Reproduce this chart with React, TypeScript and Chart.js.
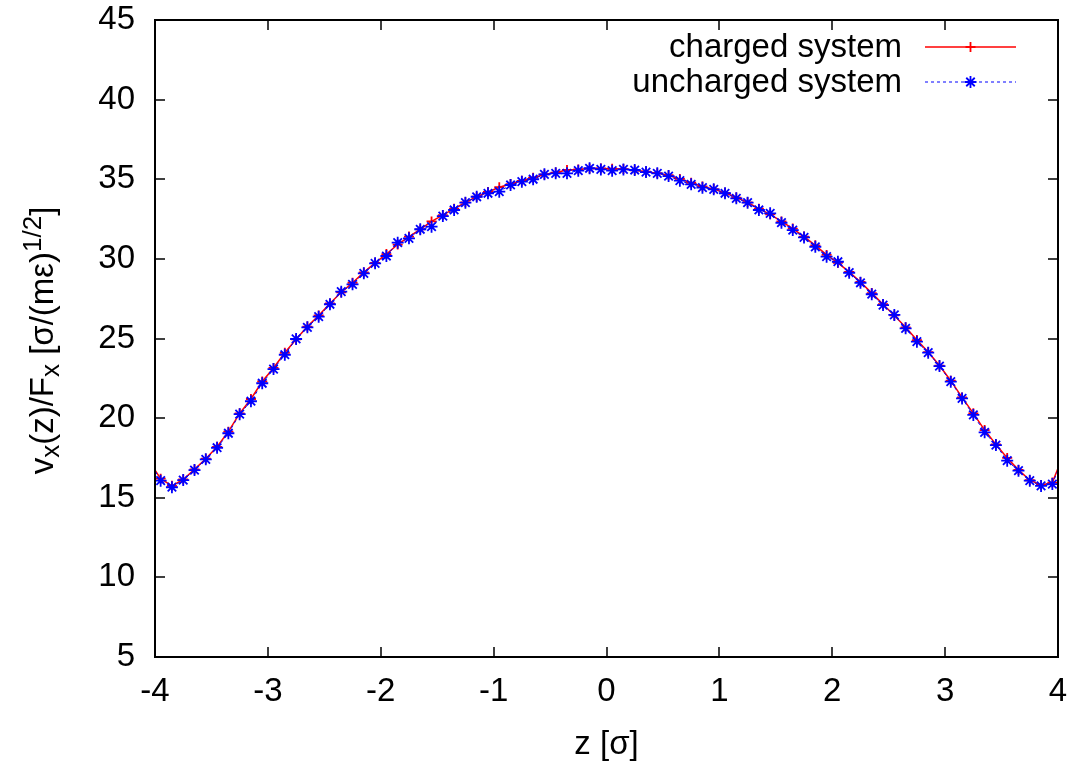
import React, { useEffect, useRef } from 'react';
import { Chart, registerables } from 'chart.js';

Chart.register(...registerables);

// ---- data ----
const zValues = [
  -4.05, -3.95, -3.85, -3.75, -3.65, -3.55, -3.45, -3.35, -3.25, -3.15, -3.05,
  -2.95, -2.85, -2.75, -2.65, -2.55, -2.45, -2.35, -2.25, -2.15, -2.05,
  -1.95, -1.85, -1.75, -1.65, -1.55, -1.45, -1.35, -1.25, -1.15, -1.05,
  -0.95, -0.85, -0.75, -0.65, -0.55, -0.45, -0.35, -0.25, -0.15, -0.05,
  0.05, 0.15, 0.25, 0.35, 0.45, 0.55, 0.65, 0.75, 0.85, 0.95,
  1.05, 1.15, 1.25, 1.35, 1.45, 1.55, 1.65, 1.75, 1.85, 1.95,
  2.05, 2.15, 2.25, 2.35, 2.45, 2.55, 2.65, 2.75, 2.85, 2.95,
  3.05, 3.15, 3.25, 3.35, 3.45, 3.55, 3.65, 3.75, 3.85, 3.95, 4.05,
];

const chargedValues = [
  17.28, 16.2, 15.75, 16.15, 16.78, 17.45, 18.2, 19.15, 20.3, 21.2, 22.3,
  23.15, 24.1, 24.95, 25.75, 26.45, 27.2, 27.9, 28.5, 29.15, 29.75,
  30.3, 30.9, 31.4, 31.85, 32.35, 32.75, 33.15, 33.55, 33.9, 34.2,
  34.5, 34.7, 34.9, 35.1, 35.3, 35.42, 35.58, 35.62, 35.68, 35.68,
  35.66, 35.64, 35.56, 35.47, 35.38, 35.25, 35.02, 34.78, 34.55, 34.38,
  34.15, 33.85, 33.55, 33.15, 32.8, 32.35, 31.9, 31.4, 30.85, 30.25,
  29.75, 29.18, 28.55, 27.85, 27.15, 26.45, 25.7, 24.9, 24.15, 23.3,
  22.35, 21.3, 20.3, 19.25, 18.35, 17.5, 16.75, 16.1, 15.8, 15.95, 17.75,
];

const unchargedValues = [
  17.3, 16.07, 15.66, 16.11, 16.74, 17.41, 18.14, 19.05, 20.25, 21.06, 22.19,
  23.08, 23.98, 24.97, 25.7, 26.37, 27.15, 27.94, 28.4, 29.09, 29.72,
  30.18, 31.02, 31.29, 31.86, 32.02, 32.69, 33.07, 33.53, 33.9, 34.12,
  34.22, 34.64, 34.85, 35.0, 35.31, 35.37, 35.37, 35.54, 35.69, 35.62,
  35.54, 35.62, 35.58, 35.45, 35.37, 35.2, 34.91, 34.68, 34.47, 34.37,
  34.12, 33.8, 33.53, 33.07, 32.86, 32.27, 31.81, 31.35, 30.76, 30.14,
  29.82, 29.13, 28.5, 27.78, 27.1, 26.48, 25.64, 24.8, 24.11, 23.27,
  22.29, 21.24, 20.2, 19.11, 18.31, 17.33, 16.7, 16.07, 15.74, 15.86, 17.6,
];

const xTicks = [-4, -3, -2, -1, 0, 1, 2, 3, 4];
const yTicks = [5, 10, 15, 20, 25, 30, 35, 40, 45];
const seriesLabels = ['charged system', 'uncharged system'];
const xTitle = 'z [σ]';
// y title pieces: [text, kind] kind: 0 normal, 1 subscript, 2 superscript
const yTitleParts: [string, number][] = [
  ['v', 0], ['x', 1], ['(z)/F', 0], ['x', 1], [' [σ/(mε)', 0], ['1/2', 2], [']', 0],
];

const FONT = '"Liberation Sans", Arial, Helvetica, sans-serif';
const FS = 33;

function drawMarker(ctx: CanvasRenderingContext2D, style: string, x: number, y: number, r: number) {
  ctx.beginPath();
  ctx.moveTo(x - r, y); ctx.lineTo(x + r, y);
  ctx.moveTo(x, y - r); ctx.lineTo(x, y + r);
  if (style === 'star') {
    const d = r * Math.SQRT1_2;
    ctx.moveTo(x - d, y - d); ctx.lineTo(x + d, y + d);
    ctx.moveTo(x - d, y + d); ctx.lineTo(x + d, y - d);
  }
  ctx.stroke();
}

const framePlugin = {
  id: 'gnuplotFrame',
  afterDraw(chart: any) {
    const { ctx, chartArea: a, scales } = chart;
    ctx.save();
    ctx.strokeStyle = '#000';
    // ticks (inward, mirrored)
    const T = 10;
    ctx.lineWidth = 1.5;
    ctx.beginPath();
    scales.x.ticks.forEach((t: any) => {
      const px = Math.round(scales.x.getPixelForValue(t.value));
      ctx.moveTo(px, a.bottom); ctx.lineTo(px, a.bottom - T);
      ctx.moveTo(px, a.top); ctx.lineTo(px, a.top + T);
    });
    scales.y.ticks.forEach((t: any) => {
      const py = Math.round(scales.y.getPixelForValue(t.value));
      ctx.moveTo(a.left, py); ctx.lineTo(a.left + T, py);
      ctx.moveTo(a.right, py); ctx.lineTo(a.right - T, py);
    });
    ctx.stroke();
    // border
    ctx.lineWidth = 2;
    ctx.strokeRect(a.left, a.top, a.right - a.left, a.bottom - a.top);

    // legend
    ctx.font = `${FS}px ${FONT}`;
    ctx.fillStyle = '#000';
    ctx.textAlign = 'right';
    ctx.textBaseline = 'middle';
    const rows = [47, 82];
    chart.data.datasets.forEach((ds: any, i: number) => {
      const y = rows[i];
      ctx.fillStyle = '#000';
      ctx.fillText(ds.label, 902, y + 1);
      ctx.save();
      ctx.strokeStyle = ds.borderColor;
      ctx.lineWidth = ds.borderWidth;
      ctx.setLineDash(ds.borderDash || []);
      ctx.beginPath();
      ctx.moveTo(925, y); ctx.lineTo(1016, y);
      ctx.stroke();
      ctx.setLineDash([]);
      ctx.lineWidth = ds.pointBorderWidth;
      drawMarker(ctx, ds.pointStyle, 970.5, y, ds.pointRadius);
      ctx.restore();
    });

    // x title
    ctx.textAlign = 'center';
    ctx.textBaseline = 'alphabetic';
    ctx.fillStyle = '#000';
    ctx.font = `${FS}px ${FONT}`;
    ctx.fillText(xTitle, (a.left + a.right) / 2, 754);

    // y title (rotated, with sub/superscripts)
    const small = Math.round(FS * 0.8);
    const fontFor = (k: number) => `${k === 0 ? FS : small}px ${FONT}`;
    let total = 0;
    const widths = yTitleParts.map(([t, k]) => {
      ctx.font = fontFor(k);
      const w = ctx.measureText(t).width;
      total += w;
      return w;
    });
    ctx.save();
    ctx.translate(53, (a.top + a.bottom) / 2 + 2);
    ctx.rotate(-Math.PI / 2);
    ctx.textAlign = 'left';
    let cx = -total / 2;
    yTitleParts.forEach(([t, k], i) => {
      ctx.font = fontFor(k);
      const dy = k === 1 ? 6 : k === 2 ? -12 : 0;
      ctx.fillText(t, cx, dy);
      cx += widths[i];
    });
    ctx.restore();
    ctx.restore();
  },
};

export default function App() {
  const ref = useRef<HTMLCanvasElement>(null);
  useEffect(() => {
    document.body.style.margin = '0';
    const canvas = ref.current!;
    const tickFont = { family: FONT, size: FS };
    const chart = new Chart(canvas, {
      type: 'line',
      data: {
        datasets: [
          {
            label: seriesLabels[0],
            data: zValues.map((z, i) => ({ x: z, y: chargedValues[i] })),
            borderColor: '#ff0000',
            borderWidth: 1.5,
            pointStyle: 'cross',
            pointRadius: 5,
            pointBorderColor: '#ff0000',
            pointBackgroundColor: '#ff0000',
            pointBorderWidth: 1.8,
            tension: 0,
            clip: 0,
            order: 2,
          } as any,
          {
            label: seriesLabels[1],
            data: zValues.map((z, i) => ({ x: z, y: unchargedValues[i] })),
            borderColor: '#0000ff',
            borderWidth: 1,
            borderDash: [3, 3],
            pointStyle: 'star',
            pointRadius: 6,
            pointBorderColor: '#0000ff',
            pointBackgroundColor: '#0000ff',
            pointBorderWidth: 1.8,
            tension: 0,
            clip: 0,
            order: 1,
          } as any,
        ],
      },
      options: {
        animation: false,
        responsive: false,
        devicePixelRatio: 1,
        layout: { padding: { top: 20, right: 22, left: 0, bottom: 0 } },
        plugins: { legend: { display: false }, tooltip: { enabled: false } },
        events: [],
        scales: {
          x: {
            type: 'linear',
            min: -4,
            max: 4,
            grid: { display: false, drawTicks: false },
            border: { display: false },
            ticks: { font: tickFont, color: '#000', padding: 15, autoSkip: false, maxRotation: 0 },
            afterBuildTicks: (s: any) => { s.ticks = xTicks.map((v) => ({ value: v })); },
            afterFit: (s: any) => { s.height = 106; s.paddingLeft = 0; s.paddingRight = 0; },
          },
          y: {
            type: 'linear',
            min: 5,
            max: 45,
            grid: { display: false, drawTicks: false },
            border: { display: false },
            ticks: { font: tickFont, color: '#000', padding: 20, autoSkip: false },
            afterBuildTicks: (s: any) => { s.ticks = yTicks.map((v) => ({ value: v })); },
            afterFit: (s: any) => { s.width = 155; s.paddingTop = 0; s.paddingBottom = 0; },
          },
        },
      },
      plugins: [framePlugin],
    });
    return () => chart.destroy();
  }, []);
  return (
    <div style={{ width: 1080, height: 763, background: '#fff' }}>
      <canvas ref={ref} width={1080} height={763} style={{ display: 'block' }} />
    </div>
  );
}
